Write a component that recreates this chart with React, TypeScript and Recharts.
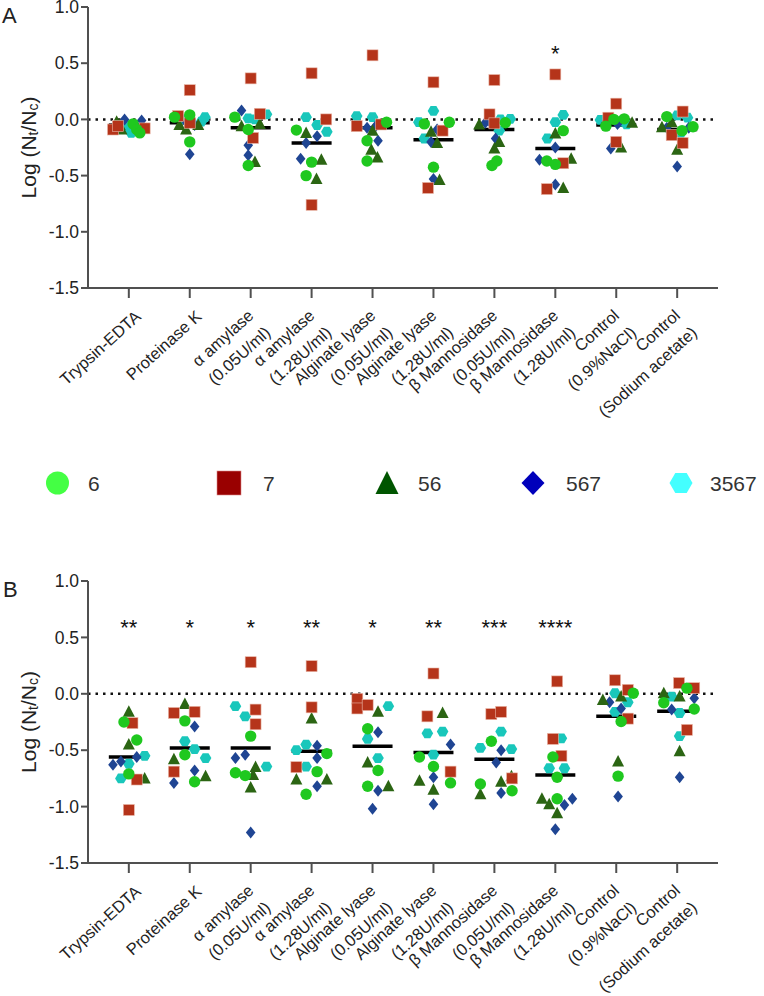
import React from 'react';
import { ScatterChart, Scatter, XAxis, YAxis, ReferenceLine } from 'recharts';

const FONT = '"Liberation Sans", Arial, Helvetica, sans-serif';

// ---------- categories ----------
const categories: string[][] = [
  ['Trypsin-EDTA'],
  ['Proteinase K'],
  ['α amylase', '(0.05U/ml)'],
  ['α amylase', '(1.28U/ml)'],
  ['Alginate lyase', '(0.05U/ml)'],
  ['Alginate lyase', '(1.28U/ml)'],
  ['β Mannosidase', '(0.05U/ml)'],
  ['β Mannosidase', '(1.28U/ml)'],
  ['Control', '(0.9%NaCl)'],
  ['Control', '(Sodium acetate)'],
];
const xTicks = [0, 1, 2, 3, 4, 5, 6, 7, 8, 9];
const yTicks = [-1.5, -1.0, -0.5, 0, 0.5, 1.0];
const strains = ['6', '7', '56', '567', '3567'];

// ---------- Panel A values (3 replicates per category) ----------
const a6 = [[-0.04, -0.09, -0.12], [0.02, 0.04, -0.2], [0.02, -0.09, -0.41], [-0.095, -0.38, -0.5], [-0.19, -0.37, -0.025], [-0.04, -0.025, -0.425], [-0.03, -0.41, -0.37], [-0.1, -0.37, -0.4], [0.0, 0.005, -0.06], [0.025, -0.1, -0.065]];
const a6dx = [[0.07, 0.13, 0.18], [-0.25, 0, 0], [-0.26, -0.04, -0.04], [-0.25, 0, -0.09], [-0.09, -0.09, 0.23], [-0.15, 0.26, 0], [0.18, -0.04, 0.04], [0.13, -0.14, 0], [-0.04, 0.13, -0.17], [-0.17, 0.08, 0.26]];
const a7 = [[-0.09, -0.06, -0.08], [0.26, 0.03, -0.03], [0.365, 0.05, -0.165], [0.41, 0.0, -0.76], [0.57, -0.06, -0.045], [0.33, -0.1, -0.61], [0.35, 0.045, -0.035], [0.4, -0.39, -0.62], [0.14, 0.015, -0.2], [0.07, -0.14, -0.21]];
const a7dx = [[-0.26, -0.18, 0.26], [0, -0.19, 0], [0, 0.15, 0.04], [0, 0.24, 0], [0, -0.26, 0.14], [0, 0.15, -0.09], [0, -0.08, 0], [0, 0.13, -0.14], [0, -0.13, 0], [0.09, -0.09, 0.09]];
const a56 = [[-0.02, -0.05, -0.09], [-0.05, -0.09, -0.05], [-0.06, -0.04, -0.38], [-0.12, -0.36, -0.53], [-0.1, -0.27, -0.34], [-0.11, -0.21, -0.54], [-0.045, -0.2, -0.26], [-0.125, -0.35, -0.61], [-0.03, -0.25, -0.02], [-0.07, -0.025, -0.27]];
const a56dx = [[-0.2, -0.15, -0.12], [-0.17, -0.06, 0.14], [-0.15, 0.15, 0.07], [-0.09, 0.16, 0.08], [0, -0.02, 0.08], [-0.04, 0.06, 0.1], [-0.25, 0.08, 0], [0, 0.26, 0.13], [0.26, 0.08, -0.18], [-0.25, -0.09, 0]];
const a567 = [[0.0, -0.01, -0.05], [-0.31, -0.03, -0.05], [0.08, -0.23, -0.32], [-0.21, -0.15, -0.35], [-0.075, -0.19, -0.06], [-0.09, -0.2, -0.53], [-0.03, -0.17, -0.01], [-0.25, -0.36, -0.58], [-0.04, -0.26, -0.02], [-0.42, -0.075, -0.075]];
const a567dx = [[-0.07, 0.21, 0.1], [0, -0.05, 0.08], [-0.15, -0.04, -0.04], [-0.09, 0.09, -0.18], [-0.09, 0.09, 0.05], [0.06, -0.04, 0], [-0.15, 0.02, -0.1], [0, -0.26, 0], [0.02, -0.09, 0.05], [0, -0.17, 0.19]];
const a3567 = [[-0.07, -0.12, -0.05], [0.02, -0.02, 0.0], [0.01, 0.0, 0.045], [0.02, -0.05, -0.11], [0.03, 0.02, -0.05], [-0.025, 0.075, -0.17], [0.0, 0.005, -0.1], [0.04, -0.025, -0.17], [-0.005, -0.045, -0.02], [0.035, 0.015, -0.13]];
const a3567dx = [[-0.01, 0.04, -0.05], [0.25, 0.19, -0.1], [-0.04, 0.07, 0.26], [-0.09, 0.09, 0.25], [-0.26, 0, 0.15], [-0.24, 0, -0.15], [0.1, 0.26, 0.08], [0.13, 0, -0.13], [-0.26, 0.17, 0.07], [0, 0.17, 0.05]];
const meanA = [-0.05, -0.03, -0.075, -0.21, -0.075, -0.18, -0.09, -0.26, -0.05, -0.09];
const sigA = ['', '', '', '', '', '', '', '*', '', ''];

// ---------- Panel B values ----------
const b6 = [[-0.25, -0.41, -0.71], [-0.24, -0.54, -0.78], [-0.375, -0.7, -0.725], [-0.53, -0.69, -0.89], [-0.31, -0.68, -0.82], [-0.56, -0.645, -0.79], [-0.42, -0.8, -0.86], [-0.56, -0.74, -0.93], [0.005, -0.245, -0.73], [0.05, -0.08, -0.135]];
const b6dx = [[-0.08, 0.13, 0], [-0.08, -0.08, 0.08], [0, -0.25, -0.09], [0.25, 0.09, -0.09], [-0.08, 0.09, -0.08], [-0.23, 0, 0.28], [-0.05, -0.23, 0.29], [-0.04, 0.03, 0.03], [0.28, 0.08, 0.03], [0.16, -0.22, 0.28]];
const b7 = [[-0.26, -0.76, -1.03], [-0.17, -0.16, -0.69], [0.28, -0.14, -0.27], [0.245, -0.12, -0.65], [-0.045, -0.13, -0.1], [0.18, -0.2, -0.69], [-0.18, -0.16, -0.75], [0.11, -0.4, -0.55], [0.12, 0.035, -0.22], [0.095, 0.05, -0.32]];
const b7dx = [[0.06, 0.13, 0], [-0.26, 0.08, -0.26], [0, 0.08, 0.08], [0, 0, -0.25], [-0.25, -0.25, -0.08], [0, -0.1, 0.28], [-0.05, 0.11, 0.29], [0.03, -0.04, 0.1], [-0.02, 0.19, 0.19], [0.03, 0.28, 0.16]];
const b56 = [[-0.16, -0.45, -0.75], [-0.09, -0.58, -0.73], [-0.65, -0.83, -0.72], [-0.22, -0.76, -0.76], [-0.16, -0.61, -0.82], [-0.17, -0.77, -0.85], [-0.78, -0.89, -0.73], [-0.93, -0.98, -1.06], [-0.055, -0.025, -0.6], [0.005, -0.025, -0.51]];
const b56dx = [[0, 0, 0.26], [-0.08, -0.26, 0.26], [0.08, 0, 0.04], [0, -0.25, 0.25], [0.09, -0.08, 0.26], [0.15, -0.23, 0], [0.11, -0.23, 0.28], [-0.22, -0.1, 0.03], [-0.22, 0.08, 0.03], [-0.22, 0.04, 0.04]];
const b567 = [[-0.63, -0.6, -0.56], [-0.29, -0.68, -0.79], [-0.57, -0.54, -1.23], [-0.46, -0.57, -0.82], [-0.34, -0.86, -1.02], [-0.45, -0.74, -0.98], [-0.5, -0.61, -0.88], [-0.985, -0.93, -1.2], [-0.075, -0.13, -0.91], [-0.04, -0.14, -0.74]];
const b567dx = [[-0.26, -0.13, 0.13], [0.08, 0.08, -0.26], [-0.25, -0.09, 0], [0.09, 0.09, 0.09], [0.09, 0.09, 0], [0.28, 0, 0], [0.11, 0.03, 0.11], [0.15, 0.28, 0], [-0.11, 0.08, 0.03], [0.28, -0.09, 0.04]];
const b3567 = [[-0.62, -0.55, -0.75], [-0.42, -0.49, -0.57], [-0.11, -0.2, -0.645], [-0.5, -0.45, -0.645], [-0.11, -0.4, -0.57], [-0.35, -0.335, -0.54], [-0.48, -0.335, -0.49], [-0.395, -0.66, -0.66], [0.005, -0.075, -0.16], [-0.025, -0.17, -0.375]];
const b3567dx = [[0, 0.26, -0.13], [-0.08, 0.08, 0.26], [-0.25, -0.09, 0.26], [-0.25, -0.09, -0.09], [0.26, -0.08, 0.09], [-0.1, 0.15, 0], [-0.23, 0.11, 0.28], [0.1, -0.1, 0.15], [-0.02, 0.19, -0.02], [-0.09, 0.04, 0.04]];
const meanB = [-0.56, -0.48, -0.48, -0.51, -0.465, -0.52, -0.58, -0.72, -0.2, -0.155];
const sigB = ['**', '*', '*', '**', '*', '**', '***', '****', '', ''];
const sigY = 0.61;

// ---------- helpers ----------
type Pt = { x: number; y: number; label?: string };
function toPoints(vals: number[][], dx: number[][]): Pt[] {
  const out: Pt[] = [];
  vals.forEach((row, ci) => row.forEach((v, j) => out.push({ x: ci + dx[ci][j], y: v })));
  return out;
}
function meanPoints(means: number[]): Pt[] {
  return means.map((m, i) => ({ x: i, y: m }));
}
function sigPoints(sig: string[]): Pt[] {
  return sig.map((s, i) => ({ x: i, y: sigY, label: s })).filter((p) => p.label !== '');
}

const C = {
  s6: '#1fc81f',
  s7: '#b5341a',
  s56: '#2b6513',
  s567: '#1f4593',
  s3567: '#19c7bb',
};

const CircleShape = (p: any) => <circle cx={p.cx} cy={p.cy} r={5.7} fill={C.s6} />;
const SquareShape = (p: any) => (
  <rect x={p.cx - 5.5} y={p.cy - 5.5} width={11} height={11} fill={C.s7} stroke="#e9b7a8" strokeWidth={0.6} />
);
const TriangleShape = (p: any) => (
  <polygon points={`${p.cx},${p.cy - 6.5} ${p.cx - 6},${p.cy + 5} ${p.cx + 6},${p.cy + 5}`} fill={C.s56} />
);
const DiamondShape = (p: any) => (
  <polygon points={`${p.cx},${p.cy - 6} ${p.cx + 4.8},${p.cy} ${p.cx},${p.cy + 6} ${p.cx - 4.8},${p.cy}`} fill={C.s567} />
);
const HexShape = (p: any) => (
  <polygon
    points={`${p.cx - 5.8},${p.cy} ${p.cx - 2.9},${p.cy - 4.9} ${p.cx + 2.9},${p.cy - 4.9} ${p.cx + 5.8},${p.cy} ${p.cx + 2.9},${p.cy + 4.9} ${p.cx - 2.9},${p.cy + 4.9}`}
    fill={C.s3567}
  />
);
const MeanShape = (p: any) => (
  <line x1={p.cx - 20} x2={p.cx + 20} y1={p.cy} y2={p.cy} stroke="#000" strokeWidth={3.5} />
);
const SigShape = (p: any) => (
  <text x={p.cx} y={p.cy + 10} textAnchor="middle" fontSize={22} fontFamily={FONT} fill="#111">
    {p.payload && p.payload.label}
  </text>
);

const ANGLE = -42;
const XTick = (props: any) => {
  const { x, y, payload } = props;
  const lines = categories[Math.round(payload.value)];
  if (!lines) return <g />;
  const common = { fontSize: 16.5, fontFamily: FONT, fill: '#222', textAnchor: 'end' as const };
  if (lines.length === 1) {
    const ax = x + 13;
    const ay = y + 20;
    return (
      <text x={ax} y={ay} transform={`rotate(${ANGLE} ${ax} ${ay})`} {...common}>
        {lines[0]}
      </text>
    );
  }
  const a1x = x + 4, a1y = y + 19;
  const a2x = x + 21, a2y = y + 36;
  return (
    <g>
      <text x={a1x} y={a1y} transform={`rotate(${ANGLE} ${a1x} ${a1y})`} {...common}>
        {lines[0]}
      </text>
      <text x={a2x} y={a2y} transform={`rotate(${ANGLE} ${a2x} ${a2y})`} {...common}>
        {lines[1]}
      </text>
    </g>
  );
};

type PanelProps = {
  top: number;
  height: number;
  xAxisHeight: number;
  s6: Pt[];
  s7: Pt[];
  s56: Pt[];
  s567: Pt[];
  s3567: Pt[];
  means: Pt[];
  sig: Pt[];
};

const AXIS = '#505050';

function Panel(p: PanelProps) {
  return (
    <div style={{ position: 'absolute', left: 0, top: p.top, width: 764, height: p.height }}>
      <ScatterChart width={764} height={p.height} margin={{ top: 17, right: 46, bottom: 0, left: 0 }}>
        <XAxis
          type="number"
          dataKey="x"
          domain={[-0.67, 9.67]}
          ticks={xTicks}
          interval={0}
          allowDataOverflow
          height={p.xAxisHeight}
          tickSize={10}
          tickMargin={0}
          tick={<XTick />}
          axisLine={{ stroke: AXIS, strokeWidth: 2 }}
          tickLine={{ stroke: AXIS, strokeWidth: 2 }}
        />
        <YAxis
          type="number"
          dataKey="y"
          domain={[-1.5, 1.0]}
          ticks={yTicks}
          interval={0}
          allowDataOverflow
          width={88}
          tickSize={7}
          tickMargin={2}
          tickFormatter={(v: number) => v.toFixed(1)}
          tick={{ fontSize: 17.5, fontFamily: FONT, fill: '#222' }}
          axisLine={{ stroke: AXIS, strokeWidth: 2 }}
          tickLine={{ stroke: AXIS, strokeWidth: 2 }}
        />
        <ReferenceLine y={0} stroke="#111" strokeWidth={2.5} strokeDasharray="2.5 5" />
        <Scatter data={p.means} shape={MeanShape} isAnimationActive={false} />
        <Scatter data={p.s3567} shape={HexShape} isAnimationActive={false} />
        <Scatter data={p.s567} shape={DiamondShape} isAnimationActive={false} />
        <Scatter data={p.s56} shape={TriangleShape} isAnimationActive={false} />
        <Scatter data={p.s7} shape={SquareShape} isAnimationActive={false} />
        <Scatter data={p.s6} shape={CircleShape} isAnimationActive={false} />
        <Scatter data={p.sig} shape={SigShape} isAnimationActive={false} />
      </ScatterChart>
    </div>
  );
}

const YTitle = ({ cx, cy }: { cx: number; cy: number }) => (
  <text
    x={cx}
    y={cy}
    transform={`rotate(-90 ${cx} ${cy})`}
    textAnchor="middle"
    dominantBaseline="central"
    fontSize={21}
    fontFamily={FONT}
    fill="#222"
  >
    Log (N
    <tspan fontSize={14} dy={5}>t</tspan>
    <tspan dy={-5}>/N</tspan>
    <tspan fontSize={14} dy={5}>c</tspan>
    <tspan dy={-5}>)</tspan>
  </text>
);

const LEG_MARK = {
  s6: '#44ff44',
  s7: '#990000',
  s56: '#005500',
  s567: '#0000bb',
  s3567: '#44ffff',
};

function Legend() {
  const cy = 483;
  const items = [
    { label: strains[0], tx: 88, shape: <circle cx={57.5} cy={cy} r={11.5} fill={LEG_MARK.s6} /> },
    { label: strains[1], tx: 263, shape: <rect x={217} y={cy - 12} width={24} height={24} fill={LEG_MARK.s7} stroke="#d88" strokeWidth={0.6} /> },
    { label: strains[2], tx: 418, shape: <polygon points={`387,${cy - 12} 375.5,${cy + 11} 398.5,${cy + 11}`} fill={LEG_MARK.s56} /> },
    { label: strains[3], tx: 566, shape: <polygon points={`533,${cy - 12} 544.5,${cy} 533,${cy + 12} 521.5,${cy}`} fill={LEG_MARK.s567} /> },
    {
      label: strains[4],
      tx: 710,
      shape: (
        <polygon
          points={`669.5,${cy} 675.3,${cy - 10} 686.7,${cy - 10} 692.5,${cy} 686.7,${cy + 10} 675.3,${cy + 10}`}
          fill={LEG_MARK.s3567}
        />
      ),
    },
  ];
  return (
    <g>
      {items.map((it) => (
        <g key={it.label}>
          {it.shape}
          <text x={it.tx} y={cy + 7.5} fontSize={21} fontFamily={FONT} fill="#333">
            {it.label}
          </text>
        </g>
      ))}
    </g>
  );
}

export default function App() {
  return (
    <div style={{ position: 'absolute', left: 0, top: 0, width: 764, height: 996, background: '#fff', overflow: 'hidden' }}>
      <Panel
        top={-10}
        height={460}
        xAxisHeight={162}
        s6={toPoints(a6, a6dx)}
        s7={toPoints(a7, a7dx)}
        s56={toPoints(a56, a56dx)}
        s567={toPoints(a567, a567dx)}
        s3567={toPoints(a3567, a3567dx)}
        means={meanPoints(meanA)}
        sig={sigPoints(sigA)}
      />
      <Panel
        top={564}
        height={432}
        xAxisHeight={133}
        s6={toPoints(b6, b6dx)}
        s7={toPoints(b7, b7dx)}
        s56={toPoints(b56, b56dx)}
        s567={toPoints(b567, b567dx)}
        s3567={toPoints(b3567, b3567dx)}
        means={meanPoints(meanB)}
        sig={sigPoints(sigB)}
      />
      <svg
        width={764}
        height={996}
        style={{ position: 'absolute', left: 0, top: 0, pointerEvents: 'none' }}
      >
        <text x={2} y={23} fontSize={22} fontFamily={FONT} fill="#222">A</text>
        <text x={3} y={597} fontSize={22} fontFamily={FONT} fill="#222">B</text>
        <YTitle cx={28} cy={147.5} />
        <YTitle cx={28} cy={722} />
        <Legend />
      </svg>
    </div>
  );
}
